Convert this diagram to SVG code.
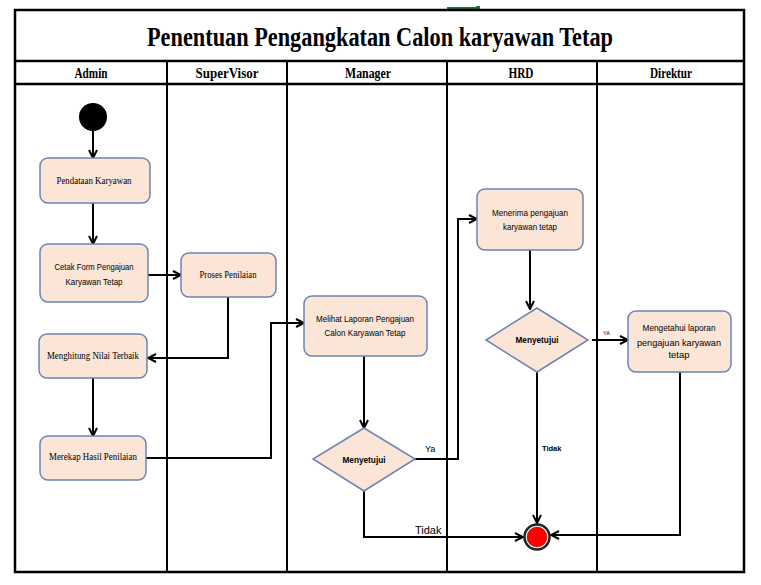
<svg xmlns="http://www.w3.org/2000/svg" width="761" height="585" viewBox="0 0 761 585">
<style>
.frame{fill:none;stroke:#000;stroke-width:2.5}
.lane{stroke:#000;stroke-width:2}
.node{fill:#fbe5d6;stroke:#6f82b2;stroke-width:1.5}
.conn{fill:none;stroke:#000;stroke-width:2}
.title{font-family:"Liberation Serif",serif;font-weight:bold;font-size:27px;fill:#000}
.hdr{font-family:"Liberation Serif",serif;font-weight:bold;font-size:14px;fill:#000}
.ser{font-family:"Liberation Serif",serif;font-size:10px;fill:#000}
.san{font-family:"Liberation Sans",sans-serif;font-size:8.5px;fill:#000}
.lbl{font-family:"Liberation Sans",sans-serif;fill:#000}
</style>
<defs>
<marker id="arr" viewBox="0 0 10 10" refX="9" refY="5" markerWidth="5" markerHeight="5" orient="auto" markerUnits="strokeWidth">
<path d="M1,1 L9,5 L1,9" fill="none" stroke="#000" stroke-width="2"/>
</marker>
</defs>
<rect width="761" height="585" fill="#fff"/>
<g id="artifact">
<line x1="447" y1="8" x2="478" y2="8" stroke="#217346" stroke-width="2"/>
<rect x="476" y="6" width="4" height="4" fill="#217346"/>
</g>
<g id="frame">
<rect class="frame" x="15" y="10" width="729" height="562"/>
<line class="frame" x1="15" y1="61" x2="744" y2="61"/>
<line class="frame" x1="15" y1="84" x2="744" y2="84"/>
<line class="lane" x1="167" y1="61" x2="167" y2="572"/>
<line class="lane" x1="287" y1="61" x2="287" y2="572"/>
<line class="lane" x1="447" y1="61" x2="447" y2="572"/>
<line class="lane" x1="597" y1="61" x2="597" y2="572"/>
<text class="title" x="380" y="46" text-anchor="middle" textLength="466" lengthAdjust="spacingAndGlyphs">Penentuan Pengangkatan Calon karyawan Tetap</text>
<text class="hdr" x="91" y="78" text-anchor="middle" textLength="33" lengthAdjust="spacingAndGlyphs">Admin</text>
<text class="hdr" x="227" y="78" text-anchor="middle" textLength="63" lengthAdjust="spacingAndGlyphs">SuperVisor</text>
<text class="hdr" x="368" y="78" text-anchor="middle" textLength="46" lengthAdjust="spacingAndGlyphs">Manager</text>
<text class="hdr" x="521" y="78" text-anchor="middle" textLength="25" lengthAdjust="spacingAndGlyphs">HRD</text>
<text class="hdr" x="671" y="78" text-anchor="middle" textLength="42" lengthAdjust="spacingAndGlyphs">Direktur</text>
</g>
<g id="connectors">
<path class="conn" d="M93,131 V158" marker-end="url(#arr)"/>
<path class="conn" d="M93,203 V244" marker-end="url(#arr)"/>
<path class="conn" d="M148,275 H181" marker-end="url(#arr)"/>
<path class="conn" d="M228,297 V358 H148" marker-end="url(#arr)"/>
<path class="conn" d="M93,378 V436" marker-end="url(#arr)"/>
<path class="conn" d="M146,458 H271 V323 H304" marker-end="url(#arr)"/>
<path class="conn" d="M364,356 V428" marker-end="url(#arr)"/>
<path class="conn" d="M415,459 H458 V219 H477" marker-end="url(#arr)"/>
<path class="conn" d="M364,491 V537 H523" marker-end="url(#arr)"/>
<path class="conn" d="M530,250 V309" marker-end="url(#arr)"/>
<path class="conn" d="M537,372 V523" marker-end="url(#arr)"/>
<path class="conn" d="M592,340 H628" marker-end="url(#arr)"/>
<path class="conn" d="M680,372 V535 H551" marker-end="url(#arr)"/>
<text class="lbl" x="425" y="452" style="font-size:9px">Ya</text>
<text class="lbl" x="415" y="534" style="font-size:11px">Tidak</text>
<text class="lbl" x="542" y="451" style="font-size:7.5px;font-weight:bold">Tidak</text>
<text class="lbl" x="603" y="335" style="font-size:5.5px">YA</text>
</g>
<g id="start"><circle cx="93" cy="117" r="14" fill="#000"/></g>
<g id="pendataan">
<rect class="node" x="40" y="158" width="110" height="45" rx="8"/>
<text class="ser" x="94" y="184" text-anchor="middle" textLength="75" lengthAdjust="spacingAndGlyphs">Pendataan Karyawan</text>
</g>
<g id="cetak">
<rect class="node" x="40" y="244" width="108" height="58" rx="8"/>
<text class="san" x="94" y="270" text-anchor="middle" textLength="79" lengthAdjust="spacingAndGlyphs">Cetak Form Pengajuan</text>
<text class="san" x="94" y="285" text-anchor="middle" textLength="57" lengthAdjust="spacingAndGlyphs">Karyawan Tetap</text>
</g>
<g id="proses">
<rect class="node" x="181" y="253" width="95" height="44" rx="8"/>
<text class="ser" x="228" y="278" text-anchor="middle" textLength="57" lengthAdjust="spacingAndGlyphs">Proses Penilaian</text>
</g>
<g id="menghitung">
<rect class="node" x="39" y="334" width="108" height="44" rx="8"/>
<text class="ser" x="93" y="359" text-anchor="middle" textLength="92" lengthAdjust="spacingAndGlyphs">Menghitung Nilai Terbaik</text>
</g>
<g id="merekap">
<rect class="node" x="40" y="436" width="106" height="44" rx="8"/>
<text class="ser" x="93" y="460" text-anchor="middle" textLength="88" lengthAdjust="spacingAndGlyphs">Merekap Hasil Penilaian</text>
</g>
<g id="melihat">
<rect class="node" x="304" y="296" width="123" height="60" rx="8"/>
<text class="san" x="365" y="322" text-anchor="middle" textLength="98" lengthAdjust="spacingAndGlyphs">Melihat Laporan Pengajuan</text>
<text class="san" x="365" y="336" text-anchor="middle" textLength="81" lengthAdjust="spacingAndGlyphs">Calon Karyawan Tetap</text>
</g>
<g id="menyetujui-manager">
<polygon class="node" points="364,428 415,459 364,491 313,459"/>
<text class="san" x="364" y="463" text-anchor="middle" font-weight="bold" textLength="43" lengthAdjust="spacingAndGlyphs">Menyetujui</text>
</g>
<g id="menerima">
<rect class="node" x="477" y="189" width="106" height="61" rx="8"/>
<text class="san" x="530" y="216" text-anchor="middle" textLength="76" lengthAdjust="spacingAndGlyphs">Menerima pengajuan</text>
<text class="san" x="530" y="230" text-anchor="middle" textLength="54" lengthAdjust="spacingAndGlyphs">karyawan tetap</text>
</g>
<g id="menyetujui-hrd">
<polygon class="node" points="537,308 588,340 537,372 486,340"/>
<text class="san" x="537" y="343" text-anchor="middle" font-weight="bold" textLength="43" lengthAdjust="spacingAndGlyphs">Menyetujui</text>
</g>
<g id="mengetahui">
<rect class="node" x="628" y="311" width="103" height="61" rx="8"/>
<text class="san" x="679" y="331" text-anchor="middle" textLength="73" lengthAdjust="spacingAndGlyphs">Mengetahui laporan</text>
<text class="san" x="679" y="346" text-anchor="middle" textLength="84" lengthAdjust="spacingAndGlyphs">pengajuan karyawan</text>
<text class="san" x="679" y="358" text-anchor="middle" textLength="21" lengthAdjust="spacingAndGlyphs">tetap</text>
</g>
<g id="end">
<circle cx="537" cy="537" r="12.5" fill="#fff" stroke="#222" stroke-width="2.5"/>
<circle cx="537" cy="537" r="10" fill="#f00" stroke="#600" stroke-width="0.5"/>
</g>
</svg>
